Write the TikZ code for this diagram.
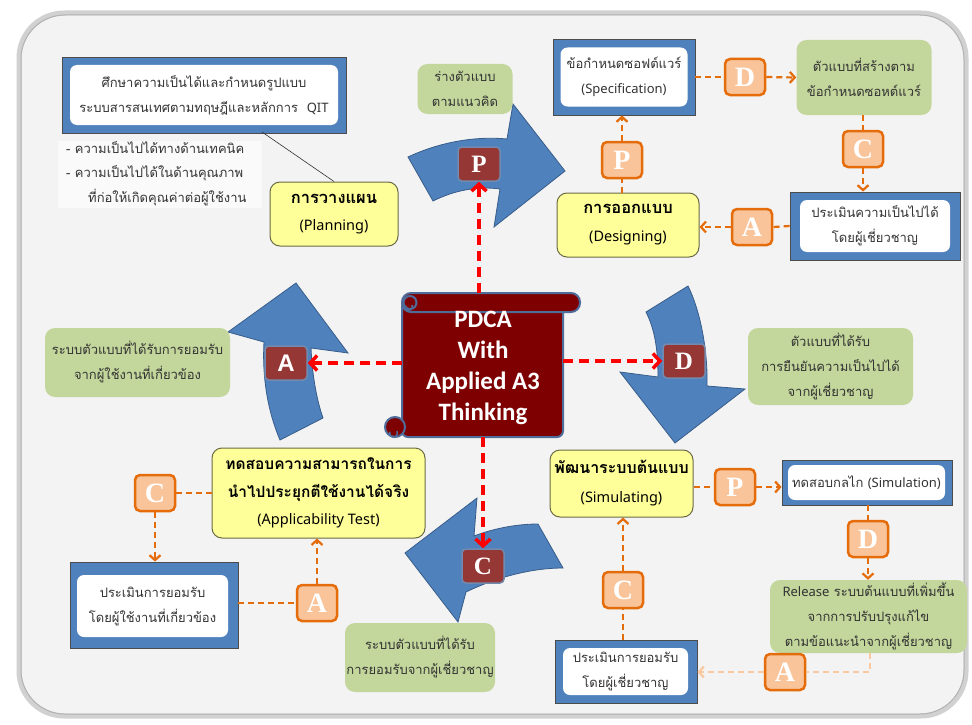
\documentclass[tikz,border=0pt]{standalone}
\usepackage{fontspec}
\newfontfamily\thai[Script=Thai]{Loma}
\newfontfamily\latfont{Noto Sans}
\newfontfamily\calfont{Carlito}
\newfontfamily\serfont{Liberation Serif}
\newfontfamily\sanfont{Liberation Sans}
\newcommand{\lat}[1]{{\latfont #1}}
\usetikzlibrary{arrows.meta}
\definecolor{bgc}{HTML}{F3F3F3}
\definecolor{boxblue}{HTML}{4F81BD}
\definecolor{darkblue}{HTML}{385D8A}
\definecolor{yel}{HTML}{FFFF99}
\definecolor{yelb}{HTML}{6B6B45}
\definecolor{grn}{HTML}{C3D69B}
\definecolor{org}{HTML}{E46C0A}
\definecolor{peach}{HTML}{F9C49A}
\definecolor{lightorg}{HTML}{FAC9A0}
\definecolor{scrollred}{HTML}{7F0000}
\definecolor{boxred}{HTML}{953735}
\definecolor{scrollb}{HTML}{4F6D9A}
\definecolor{redd}{HTML}{FF0000}
\definecolor{txt}{HTML}{333333}
\tikzset{
  outerblue/.style={draw=black!70, fill=boxblue, line width=0.8pt, inner sep=0pt},
  innerwhite/.style={fill=white, rounded corners=7pt, inner sep=0pt, align=center, text=txt, font=\thai\fontsize{13}{25}\selectfont},
  yelbox/.style={draw=yelb, fill=yel, rounded corners=10pt, line width=1pt, inner sep=0pt, align=center, text=black},
  grnbox/.style={fill=grn, rounded corners=10pt, inner sep=0pt, align=center, text=txt, font=\thai\fontsize{13}{25}\selectfont},
  orgbox/.style={draw=org, fill=peach, line width=2.5pt, rounded corners=5pt, minimum width=40pt, minimum height=36pt, inner sep=0pt, text=white, font=\serfont\bfseries\fontsize{28}{28}\selectfont},
  redbox/.style={draw=scrollb!80, fill=boxred, line width=1.5pt, rounded corners=4pt, minimum width=42pt, minimum height=34pt, inner sep=0pt, text=white},
  odash/.style={draw=org, line width=2.2pt, dash pattern=on 6pt off 4pt},
  oarrow/.style={odash, -{Straight Barb[length=5pt,width=11pt]}},
  ldash/.style={draw=lightorg, line width=2.2pt, dash pattern=on 6pt off 4pt},
  larrow/.style={ldash, -{Straight Barb[length=5pt,width=11pt]}},
  rarrow/.style={draw=redd, line width=3.5pt, dash pattern=on 10pt off 6pt, -{Straight Barb[length=7pt,width=15pt]}},
  bluearrow/.style={fill=boxblue, draw=darkblue, line width=0.8pt},
  scrollst/.style={fill=scrollred, draw=scrollb, line width=2pt},
  plain/.style={text=txt, font=\thai\fontsize{13}{25}\selectfont, inner sep=0pt}
}
\begin{document}
\begin{tikzpicture}[x=1pt,y=-1pt]
\useasboundingbox (0,0) rectangle (972,725);
\fill[white] (0,0) rectangle (972,725);
\draw[line width=5pt, draw=black!18, fill=bgc, rounded corners=45pt] (19,13) rectangle (966,716);
\draw[line width=1pt, draw=black!30, rounded corners=44pt] (21,15) rectangle (964,714);

% ---------- blue curved arrows ----------
\path[bluearrow] (408,157) .. controls (440,142) and (475,136) .. (507,139) -- (513,104) -- (565,171) -- (494,227) -- (500,189) .. controls (478,186) and (455,190) .. (433,201) -- cycle;
\path[bluearrow] (296,283) -- (348,353) -- (311,348) .. controls (312,372) and (316,398) .. (323,418) -- (280,440) .. controls (268,412) and (262,378) .. (264,342) -- (228,332) -- cycle;
\path[bluearrow] (646,312) -- (688,286) .. controls (700,310) and (708,350) .. (707,386) -- (745,389) -- (675,443) -- (620,372) -- (658,377) .. controls (658,350) and (655,330) .. cycle;
\path[bluearrow] (405,553) -- (477,498) -- (474,536) .. controls (495,528) and (518,524) .. (538,524) -- (563,568) .. controls (530,568) and (495,578) .. (466,592) -- (458,622) -- cycle;

% ---------- Planning (top-left) ----------
\node[outerblue, minimum width=284pt, minimum height=76pt] (studyo) at (204,95) {};
\node[innerwhite, minimum width=268pt, minimum height=60pt] (study) at (204,95) {ศึกษาความเป็นได้และกำหนดรูปแบบ\\ระบบสารสนเทศตามทฤษฎีและหลักการ~~\lat{QIT}};
\node[fill=white!60!bgc, minimum width=204pt, minimum height=67pt, inner sep=0pt] (bulp) at (160,174) {};
\node[plain, anchor=west] (b1) at (66,148) {- ความเป็นไปได้ทางด้านเทคนิค};
\node[plain, anchor=west] (b2) at (66,173) {- ความเป็นไปได้ในด้านคุณภาพ};
\node[plain, anchor=west] (b3) at (88,198) {ที่ก่อให้เกิดคุณค่าต่อผู้ใช้งาน};
\node[yelbox, minimum width=128pt, minimum height=64pt, font=\thai\fontsize{14.5}{27}\selectfont] (plan) at (334,214) {{\bfseries\fontsize{16.5}{27}\selectfont การวางแผน}\\\lat{(Planning)}};
\coordinate (lk) at (262,132);
\draw[black!80, line width=0.6pt] (lk) -- (plan.north);

% ---------- P arrow label ----------
\node[grnbox, minimum width=95pt, minimum height=50pt] (concept) at (465,89) {ร่างตัวแบบ\\ตามแนวคิด};

% ---------- Designing cycle (top-right) ----------
\node[outerblue, minimum width=142pt, minimum height=76pt] (speco) at (624,77) {};
\node[innerwhite, minimum width=127pt, minimum height=59pt] (spec) at (624,77) {ข้อกำหนดซอฟต์แวร์\\\lat{(Specification)}};
\node[orgbox] (d1) at (745,77) {D};
\node[grnbox, minimum width=135pt, minimum height=75pt] (model) at (864,77.5) {ตัวแบบที่สร้างตาม\\ข้อกำหนดซอหต์แวร์};
\node[orgbox] (c1) at (863,149) {C};
\node[outerblue, minimum width=170pt, minimum height=68pt] (eval1o) at (875,226) {};
\node[innerwhite, minimum width=150pt, minimum height=52pt] (eval1) at (875,226) {ประเมินความเป็นไปได้\\โดยผู้เชี่ยวชาญ};
\node[orgbox] (a1) at (752,227) {A};
\node[yelbox, minimum width=142pt, minimum height=64pt, font=\thai\fontsize{14.5}{28}\selectfont] (design) at (628,225) {{\bfseries\fontsize{16.5}{28}\selectfont การออกแบบ}\\\lat{(Designing)}};
\node[orgbox] (p1) at (622,160) {P};
\draw[odash] (speco.east) -- (d1.west);
\draw[oarrow] (d1.east) -- (model.west);
\draw[odash] (model.south -| c1.north) -- (c1.north);
\draw[oarrow] (c1.south) -- (eval1o.north -| c1.south);
\draw[odash] (eval1o.west) -- (a1.east);
\draw[oarrow] (a1.west) -- (design.east |- a1.west);
\draw[odash] (design.north -| p1.south) -- (p1.south);
\draw[oarrow] (p1.north) -- (speco.south -| p1.north);

% ---------- left / right labels ----------
\node[grnbox, minimum width=185pt, minimum height=69pt] (accu) at (137.5,362.5) {ระบบตัวแบบที่ได้รับการยอมรับ\\จากผู้ใช้งานที่เกี่ยวข้อง};
\node[grnbox, minimum width=165pt, minimum height=77pt] (confirm) at (830.5,366.5) {ตัวแบบที่ได้รับ\\การยืนยันความเป็นไปได้\\จากผู้เชี่ยวชาญ};

% ---------- Applicability (bottom-left) ----------
\node[yelbox, minimum width=213pt, minimum height=90pt, font=\thai\fontsize{14.5}{27.5}\selectfont] (apply) at (318.5,493) {{\bfseries\fontsize{15.5}{27.5}\selectfont ทดสอบความสามารถในการ}\\{\bfseries\fontsize{15.5}{27.5}\selectfont นำไปประยุกตีใช้งานได้จริง}\\\lat{(Applicability Test)}};
\node[orgbox] (c2) at (155,493) {C};
\node[outerblue, minimum width=168pt, minimum height=86pt] (eval2o) at (154,605) {};
\node[innerwhite, minimum width=151pt, minimum height=62pt] (eval2) at (152.5,606) {ประเมินการยอมรับ\\โดยผู้ใช้งานที่เกี่ยวข้อง};
\node[orgbox] (a2) at (317,603) {A};
\draw[odash] (apply.west |- c2.east) -- (c2.east);
\draw[oarrow] (c2.south) -- (eval2o.north -| c2.south);
\draw[odash] (eval2o.east |- a2.west) -- (a2.west);
\draw[oarrow] (a2.north) -- (apply.south -| a2.north);

% ---------- bottom centre label ----------
\node[grnbox, minimum width=150pt, minimum height=69pt] (accexp) at (420,657.5) {ระบบตัวแบบที่ได้รับ\\การยอมรับจากผู้เชี่ยวชาญ};

% ---------- Simulating (bottom-right) ----------
\node[yelbox, minimum width=143pt, minimum height=67pt, font=\thai\fontsize{14.5}{29}\selectfont] (simul) at (621.5,483.5) {{\bfseries\fontsize{16}{29}\selectfont พัฒนาระบบต้นแบบ}\\\lat{(Simulating)}};
\node[orgbox] (p3) at (735,487) {P};
\node[outerblue, minimum width=170pt, minimum height=45pt] (simo) at (867,482.5) {};
\node[innerwhite, minimum width=157pt, minimum height=35pt] (sim) at (866.5,482.5) {ทดสอบกลไก \lat{(Simulation)}};
\node[orgbox] (d3) at (868,539) {D};
\node[grnbox, minimum width=197pt, minimum height=73pt] (release) at (868.5,616.5) {\lat{Release} ระบบต้นแบบที่เพิ่มขึ้น\\จากการปรับปรุงแก้ไข\\ตามข้อแนะนำจากผู้เชี่ยวชาญ};
\node[orgbox] (a3) at (785,672) {A};
\node[outerblue, minimum width=142pt, minimum height=63pt] (eval3o) at (626,671.5) {};
\node[innerwhite, minimum width=125pt, minimum height=47pt] (eval3) at (625.5,671.5) {ประเมินการยอมรับ\\โดยผู้เชี่ยวชาญ};
\node[orgbox] (c3) at (623,590) {C};
\draw[odash] (simul.east |- p3.west) -- (p3.west);
\draw[oarrow] (p3.east) -- (simo.west |- p3.east);
\draw[odash] (simo.south -| d3.north) -- (d3.north);
\draw[oarrow] (d3.south) -- (release.north -| d3.south);
\coordinate (rc) at (870,672);
\draw[ldash] (release.south -| rc) -- (rc) -- (a3.east);
\draw[larrow] (a3.west) -- (eval3o.east |- a3.west);
\draw[odash] (eval3o.north -| c3.south) -- (c3.south);
\draw[oarrow] (c3.north) -- (simul.south -| c3.north);

% ---------- centre scroll ----------
\draw[scrollst, rounded corners=6pt] (402,300) rectangle (563,437);
\draw[scrollst, rounded corners=9pt] (402,293) rectangle (580,312);
\draw[scrollst] (410,302.5) circle[radius=6.5];
\draw[scrollb, line width=1.5pt] (412,305) arc[start angle=-30, end angle=200, radius=3.5];
\draw[scrollst] (395,427) circle[radius=10];
\draw[scrollb, line width=1.5pt] (397,431) arc[start angle=-30, end angle=200, radius=4];
\node[minimum width=161pt, minimum height=144pt, inner sep=0pt] (scroll) at (482.5,365) {};
\node[text=white, align=center, inner sep=0pt, font=\calfont\bfseries\fontsize{25}{31}\selectfont] (stext) at (483,368) {PDCA\\With\\Applied A3\\Thinking};

% ---------- maroon letter boxes ----------
\node[redbox, font=\serfont\bfseries\fontsize{25}{25}\selectfont] (pm) at (479,164) {P};
\node[redbox, font=\sanfont\bfseries\fontsize{24}{24}\selectfont] (am) at (286,363) {A};
\node[redbox, font=\serfont\bfseries\fontsize{25}{25}\selectfont] (dm) at (684,361) {D};
\node[redbox, font=\serfont\bfseries\fontsize{25}{25}\selectfont] (cm) at (483,566) {C};

\draw[rarrow] (pm.south |- scroll.north) -- (pm.south);
\draw[rarrow] (scroll.west |- am.east) -- (am.east);
\draw[rarrow] (scroll.east |- dm.west) -- (dm.west);
\draw[rarrow] (scroll.south -| cm.north) -- (cm.north);
\end{tikzpicture}
\end{document}
